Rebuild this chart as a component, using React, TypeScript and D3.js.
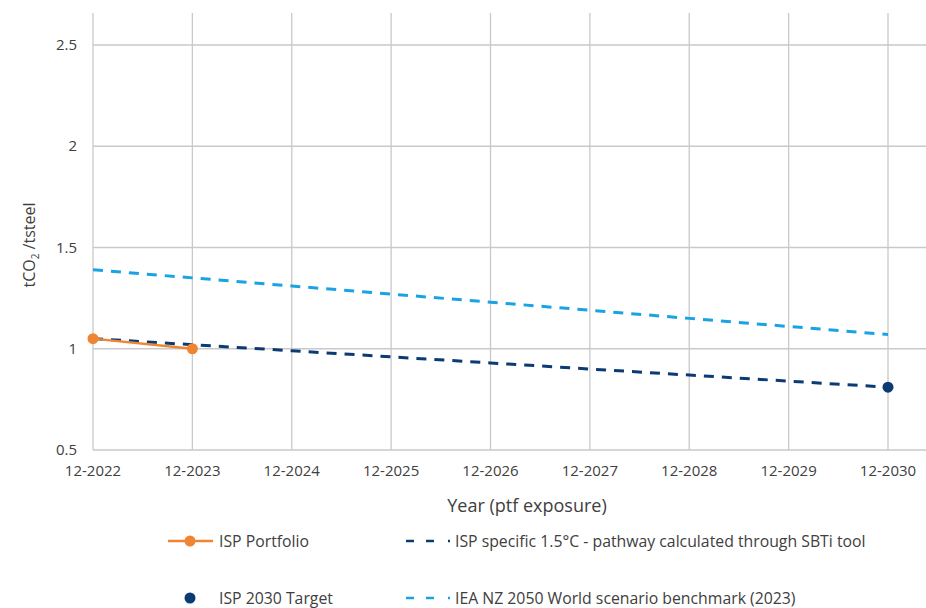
import React from "react";
import * as d3 from "d3";

const years = ["12-2022", "12-2023", "12-2024", "12-2025", "12-2026", "12-2027", "12-2028", "12-2029", "12-2030"];
const portfolioYears = ["12-2022", "12-2023"];
const portfolioValues = [1.05, 1.0];
const pathwayValues = [1.05, 1.02, 0.99, 0.96, 0.93, 0.9, 0.87, 0.84, 0.81];
const ieaValues = [1.39, 1.35, 1.31, 1.27, 1.23, 1.19, 1.15, 1.11, 1.07];
const targetYear = "12-2030";
const targetValue = 0.81;
const yTicks = [0.5, 1, 1.5, 2, 2.5];

const ORANGE = "#ef8533";
const NAVY = "#0a3b73";
const SKY = "#1aa3e3";
const GRID = "#c9c9c9";
const TEXT = "#404040";
const FONT = "'Open Sans', 'Noto Sans', sans-serif";

export default function App() {
  const W = 926, H = 608;
  const x = d3.scalePoint<string>().domain(years).range([93, 888]);
  const y = d3.scaleLinear().domain([0.5, 2.5]).range([450, 45]);
  const yTop = 13;
  const line = d3.line<[string, number]>().x(d => x(d[0])!).y(d => y(d[1]));
  const row1 = 541, row2 = 598;

  return (
    <svg width={W} height={H} style={{ position: "absolute", left: 0, top: 0, fontFamily: FONT }}>
      <rect width={W} height={H} fill="#fff" />
      {/* grid */}
      {yTicks.map(t => (
        <line key={"h" + t} x1={93} x2={W} y1={y(t)} y2={y(t)} stroke={GRID} strokeWidth={1.3} />
      ))}
      {years.map(yr => (
        <line key={"v" + yr} x1={x(yr)} x2={x(yr)} y1={yTop} y2={450} stroke={GRID} strokeWidth={1.3} />
      ))}
      {/* y tick labels */}
      {yTicks.map(t => (
        <text key={"yt" + t} x={77} y={y(t) + 5} textAnchor="end" fontSize={15} fill={TEXT}>
          {String(t)}
        </text>
      ))}
      {/* x tick labels */}
      {years.map(yr => (
        <text key={"xt" + yr} x={x(yr)} y={476} textAnchor="middle" fontSize={15} fill={TEXT}>
          {yr}
        </text>
      ))}
      {/* axis titles */}
      <text x={527} y={512} textAnchor="middle" fontSize={18} fill={TEXT}>Year (ptf exposure)</text>
      <text transform={`translate(35,245) rotate(-90)`} textAnchor="middle" fontSize={16} fill={TEXT}>
        tCO<tspan fontSize={10} dy={4}>2</tspan><tspan dy={-4}> /tsteel</tspan>
      </text>
      {/* series */}
      <path d={line(years.map((yr, i) => [yr, ieaValues[i]] as [string, number]))!} fill="none" stroke={SKY} strokeWidth={3} strokeDasharray="10 8" />
      <path d={line(years.map((yr, i) => [yr, pathwayValues[i]] as [string, number]))!} fill="none" stroke={NAVY} strokeWidth={3} strokeDasharray="10 8" />
      <path d={line(portfolioYears.map((yr, i) => [yr, portfolioValues[i]] as [string, number]))!} fill="none" stroke={ORANGE} strokeWidth={2.5} />
      {portfolioYears.map((yr, i) => (
        <circle key={"p" + yr} cx={x(yr)} cy={y(portfolioValues[i])} r={5.5} fill={ORANGE} />
      ))}
      <circle cx={x(targetYear)} cy={y(targetValue)} r={5.5} fill={NAVY} />
      {/* legend */}
      <g fontSize={15.8} fill={TEXT}>
        <line x1={168} x2={213} y1={row1} y2={row1} stroke={ORANGE} strokeWidth={2.5} />
        <circle cx={190} cy={row1} r={5.5} fill={ORANGE} />
        <text x={219} y={row1 + 6}>ISP Portfolio</text>

        <circle cx={190} cy={row2} r={5.5} fill={NAVY} />
        <text x={219} y={row2 + 5.5}>ISP 2030 Target</text>

        <line x1={406} x2={414} y1={row1} y2={row1} stroke={NAVY} strokeWidth={2.5} />
        <line x1={426} x2={434} y1={row1} y2={row1} stroke={NAVY} strokeWidth={2.5} />
        <line x1={448} x2={450} y1={row1} y2={row1} stroke={NAVY} strokeWidth={2.5} />
        <text x={455} y={row1 + 6}>ISP specific 1.5°C - pathway calculated through SBTi tool</text>

        <line x1={406} x2={414} y1={row2} y2={row2} stroke={SKY} strokeWidth={2.5} />
        <line x1={426} x2={434} y1={row2} y2={row2} stroke={SKY} strokeWidth={2.5} />
        <line x1={448} x2={450} y1={row2} y2={row2} stroke={SKY} strokeWidth={2.5} />
        <text x={455} y={row2 + 5.5}>IEA NZ 2050 World scenario benchmark (2023)</text>
      </g>
    </svg>
  );
}
